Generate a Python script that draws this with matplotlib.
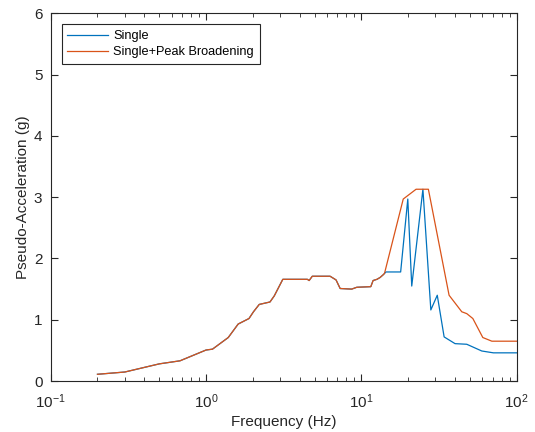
#
# Response spectrum: single vs. single with peak broadening
#

import matplotlib.pyplot as plt
from matplotlib.ticker import LogLocator, FixedLocator

plt.rcParams['font.family'] = ['Liberation Sans', 'DejaVu Sans']

# shared part of both spectra (up to ~14 Hz)
freq_common = [0.2, 0.3, 0.5, 0.68, 1.0, 1.1, 1.39, 1.61, 1.89, 2.02, 2.2,
               2.58, 2.75, 3.12, 4.49, 4.61, 4.83, 6.29, 6.87, 7.3, 8.66,
               9.34, 11.5, 11.9, 12.6, 13.2, 13.9]
accel_common = [0.11, 0.147, 0.28, 0.33, 0.506, 0.52, 0.71, 0.93, 1.02, 1.13,
                1.25, 1.29, 1.39, 1.66, 1.66, 1.64, 1.71, 1.71, 1.65, 1.51,
                1.50, 1.53, 1.54, 1.64, 1.66, 1.69, 1.74]

# tails where the two curves split
freq_single_tail = [14.4, 17.9, 19.9, 21.1, 24.9, 28.0, 30.8, 34.1, 40.1,
                    47.7, 59.6, 70.8, 100]
accel_single_tail = [1.78, 1.78, 2.97, 1.55, 3.13, 1.16, 1.40, 0.72, 0.61,
                     0.60, 0.49, 0.46, 0.46]

freq_broad_tail = [14.1, 18.6, 22.5, 27.0, 36.7, 44.3, 47.7, 52.2, 60.5,
                   69.2, 100]
accel_broad_tail = [1.76, 2.97, 3.13, 3.13, 1.40, 1.13, 1.10, 1.02, 0.71,
                    0.65, 0.65]

fig = plt.figure(figsize=(5.35, 4.32), dpi=100)
ax = fig.add_axes([0.0948, 0.118, 0.871, 0.851])

ax.plot(freq_common + freq_single_tail, accel_common + accel_single_tail,
        color='#0072BD', lw=0.9, label='Single')
ax.plot(freq_common + freq_broad_tail, accel_common + accel_broad_tail,
        color='#D95319', lw=0.9, label='Single+Peak Broadening')

ax.set_xscale('log')
ax.set_xlim(0.1, 100)
ax.set_ylim(0, 6)
ax.yaxis.set_major_locator(FixedLocator(range(7)))
ax.xaxis.set_minor_locator(LogLocator(base=10, subs=range(2, 10)))

grey = '#262626'
for s in ax.spines.values():
    s.set_color(grey)
    s.set_linewidth(0.8)
ax.tick_params(which='both', direction='in', top=True, right=True,
               colors=grey, labelsize=11, labelcolor=grey)
ax.tick_params(which='major', length=5, width=0.8)
ax.tick_params(which='minor', length=3, width=0.6)
ax.tick_params(axis='x', which='major', pad=8)
ax.tick_params(axis='y', which='major', pad=6)

ax.set_xlabel('Frequency (Hz)', fontsize=11, color=grey, labelpad=3)
ax.set_ylabel('Pseudo-Acceleration (g)', fontsize=11, color=grey, labelpad=3)

leg = ax.legend(loc='upper left', fontsize=9.2, frameon=True, fancybox=False,
                edgecolor=grey, framealpha=1, handlelength=3.2,
                handletextpad=0.4, borderpad=0.45, labelspacing=0.35,
                borderaxespad=0.85)
leg.get_frame().set_linewidth(0.8)

fig.savefig('out.png', dpi=100)
